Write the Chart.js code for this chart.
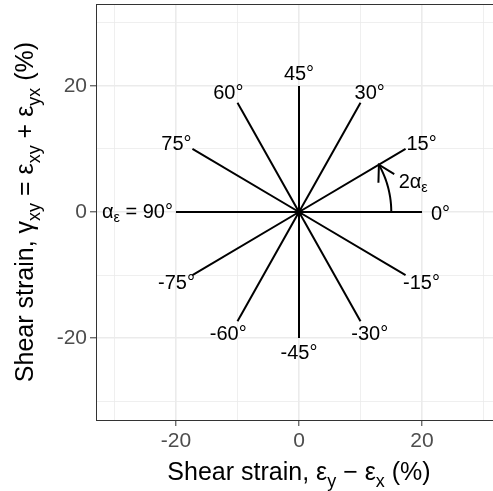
<!DOCTYPE html>
<html>
<head>
<meta charset="utf-8">
<script src="https://cdn.jsdelivr.net/npm/chart.js@4.4.0/dist/chart.umd.min.js"></script>
<style>
    html, body { margin: 0; padding: 0; background: #fff; overflow: hidden; }
    canvas { display: block; }
</style>
</head>
<body>
<canvas id="strain_chart" width="506" height="491"></canvas>
<script>
// strain directions (alpha), each drawn at angle 2*alpha
const angles = [0, 15, 30, 45, 60, 75, 90, -15, -30, -45, -60, -75]
const spokeLength = 20
const labelRx = 23
const labelRy = 22.1
const arcRadius = 15
const arcEnd = 30

const tickValues = [-30, -20, -10, 0, 10, 20, 30]
const majorTicks = [-20, 0, 20]

const xTitle = [
    { t: 'Shear strain, ' }, { t: 'ε' }, { t: 'y', sub: true },
    { t: ' − ' }, { t: 'ε' }, { t: 'x', sub: true }, { t: ' (%)' }
]
const yTitle = [
    { t: 'Shear strain, ' }, { t: 'γ' }, { t: 'xy', sub: true }, { t: ' = ' },
    { t: 'ε' }, { t: 'xy', sub: true }, { t: ' + ' }, { t: 'ε' }, { t: 'yx', sub: true }, { t: ' (%)' }
]
const label90 = [{ t: 'α' }, { t: 'ε', sub: true }, { t: ' = 90°' }]
const arcLabel = [{ t: '2α' }, { t: 'ε', sub: true }]

const FONT = '"Liberation Sans", Arial, sans-serif'

function richWidth(ctx, parts, size) {
    let w = 0
    parts.forEach(p => {
        ctx.font = `${p.sub ? size * 0.72 : size}px ${FONT}`
        w += ctx.measureText(p.t).width
    })
    return w
}

function drawRich(ctx, parts, x0, y0, size, align) {
    const w = richWidth(ctx, parts, size)
    let cx = align === 'center' ? x0 - w / 2 : align === 'right' ? x0 - w : x0
    ctx.textAlign = 'left'
    parts.forEach(p => {
        const s = p.sub ? size * 0.72 : size
        ctx.font = `${s}px ${FONT}`
        ctx.fillText(p.t, cx, y0 + (p.sub ? size * 0.28 : 0))
        cx += ctx.measureText(p.t).width
    })
}

const rad = a => a * Math.PI / 180

const annotations = {
    id: 'strainAnnotations',
    afterDatasetsDraw(chart) {
        const { ctx, chartArea, scales: { x, y } } = chart
        ctx.save()
        ctx.fillStyle = '#000'
        ctx.textBaseline = 'middle'

        // direction labels
        angles.forEach(a => {
            const t = rad(2 * a)
            if (a === 90) {
                drawRich(ctx, label90, x.getPixelForValue(-spokeLength) - 3, y.getPixelForValue(0), 20, 'right')
                return
            }
            const px = x.getPixelForValue(labelRx * Math.cos(t))
            const py = y.getPixelForValue(labelRy * Math.sin(t)) + 2
            ctx.font = `20px ${FONT}`
            ctx.textAlign = 'center'
            ctx.fillText(`${a}°`, px, py)
        })

        // 2 alpha arc with arrow
        const pts = []
        for (let d = 0; d <= arcEnd; d += 1) {
            pts.push([x.getPixelForValue(arcRadius * Math.cos(rad(d))), y.getPixelForValue(arcRadius * Math.sin(rad(d)))])
        }
        ctx.strokeStyle = '#000'
        ctx.lineWidth = 2
        ctx.beginPath()
        pts.forEach((p, i) => i ? ctx.lineTo(p[0], p[1]) : ctx.moveTo(p[0], p[1]))
        ctx.stroke()
        const [tx, ty] = pts[pts.length - 1]
        const [bx, by] = pts[pts.length - 3]
        const ang = Math.atan2(ty - by, tx - bx)
        const len = 18
        ctx.beginPath()
        ctx.moveTo(tx - len * Math.cos(ang - rad(30)), ty - len * Math.sin(ang - rad(30)))
        ctx.lineTo(tx, ty)
        ctx.lineTo(tx - len * Math.cos(ang + rad(30)), ty - len * Math.sin(ang + rad(30)))
        ctx.stroke()
        drawRich(ctx, arcLabel, x.getPixelForValue(16.2), y.getPixelForValue(4.7), 20, 'left')

        // panel border
        ctx.strokeStyle = '#333'
        ctx.lineWidth = 1
        ctx.strokeRect(chartArea.left + 0.5, chartArea.top + 0.5, chartArea.right - chartArea.left, chartArea.bottom - chartArea.top)

        // axis titles
        ctx.textBaseline = 'alphabetic'
        drawRich(ctx, xTitle, (chartArea.left + chartArea.right) / 2, 480, 25, 'center')
        ctx.translate(33, (chartArea.top + chartArea.bottom) / 2)
        ctx.rotate(-Math.PI / 2)
        drawRich(ctx, yTitle, 0, 0, 25, 'center')
        ctx.restore()
    }
}

document.addEventListener('DOMContentLoaded', () => {
    const canvas = document.getElementById('strain_chart')

    const datasets = angles.map(a => ({
        data: [
            { x: 0, y: 0 },
            { x: spokeLength * Math.cos(rad(2 * a)), y: spokeLength * Math.sin(rad(2 * a)) }
        ],
        showLine: true,
        borderColor: '#000',
        borderWidth: 2,
        pointRadius: 0
    }))
    datasets.push({
        data: [{ x: 0, y: 0 }],
        pointRadius: 3.5,
        backgroundColor: '#000',
        borderWidth: 0
    })

    const isMajor = v => majorTicks.includes(v)

    const axis = (fit) => ({
        type: 'linear',
        min: -33,
        max: 33,
        afterBuildTicks: s => { s.ticks = tickValues.map(v => ({ value: v })) },
        afterFit: s => {
            fit(s)
            s.paddingTop = 0
            s.paddingBottom = 0
            s.paddingLeft = 0
            s.paddingRight = 0
        },
        border: { display: false },
        grid: {
            color: '#EBEBEB',
            lineWidth: c => (c.tick && isMajor(c.tick.value)) ? 1.6 : 0.8,
            tickColor: c => (c.tick && isMajor(c.tick.value)) ? '#333' : 'rgba(0,0,0,0)',
            tickLength: 6,
            tickWidth: 1
        },
        ticks: {
            callback: v => isMajor(v) ? v : '',
            color: '#4D4D4D',
            font: { size: 21, family: FONT },
            padding: 3,
            autoSkip: false,
            maxRotation: 0
        }
    })

    const config = {
        type: 'scatter',
        data: { datasets },
        options: {
            responsive: false,
            animation: false,
            events: [],
            layout: { padding: { top: 4, right: 4, left: 0, bottom: 0 } },
            plugins: { legend: { display: false }, tooltip: { enabled: false } },
            scales: {
                x: axis(s => { s.height = 71 }),
                y: axis(s => { s.width = 96 })
            }
        },
        plugins: [annotations]
    }

    new Chart(canvas.getContext('2d'), config)
})
</script>
</body>
</html>
